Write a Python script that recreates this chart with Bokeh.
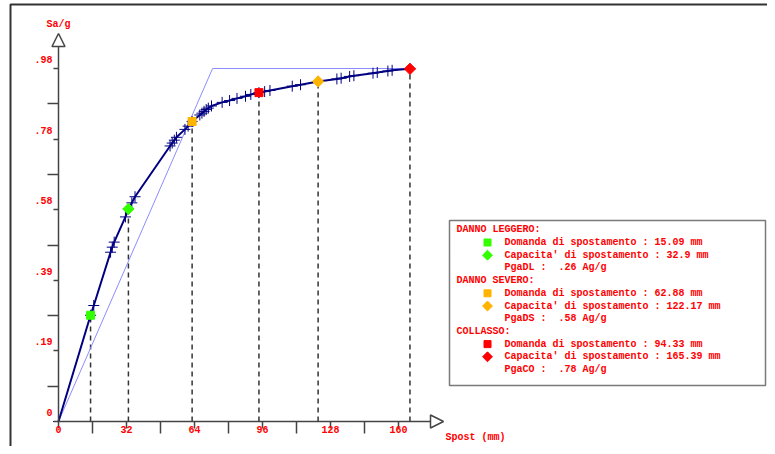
import math
from bokeh.plotting import figure
from bokeh.models import Range1d, FixedTicker, Arrow, NormalHead
from bokeh.core.properties import value
from bokeh.embed import file_html
from bokeh.resources import INLINE

# ---------------- data ----------------
spost_mm = [0.0, 15.09, 16.6, 24.5, 25.3, 26.2, 31.5, 32.9, 34.5, 36.0,
            52.5, 53.5, 54.5, 55.5, 59.5, 61.0, 62.88, 66.5, 67.5, 68.5,
            69.5, 70.5, 72.0, 77.0, 80.5, 84.0, 88.0, 90.5, 94.33, 97.0,
            99.5, 110.0, 113.9, 122.17, 131.0, 133.0, 137.0, 139.0, 148.0,
            150.0, 155.0, 157.0, 165.39]
sa_g = [0.0, 0.295, 0.322, 0.47, 0.484, 0.498, 0.568, 0.59, 0.607, 0.624,
        0.765, 0.773, 0.781, 0.789, 0.811, 0.82, 0.833, 0.851, 0.856, 0.861,
        0.866, 0.87, 0.876, 0.886, 0.891, 0.897, 0.903, 0.908, 0.913, 0.916,
        0.919, 0.931, 0.935, 0.944, 0.951, 0.953, 0.958, 0.96, 0.967,
        0.969, 0.973, 0.975, 0.979]

bilin_x = [0.0, 72.5, 165.39]
bilin_y = [0.0, 0.98, 0.98]

# limit-state points: demand (square) / capacity (diamond)
state_names = ["DANNO LEGGERO:", "DANNO SEVERO:", "COLLASSO:"]
state_colors = ["#33ff00", "#ffb400", "#ff0000"]
demand_mm = [15.09, 62.88, 94.33]
demand_sa = [0.295, 0.833, 0.913]
capacity_mm = [32.9, 122.17, 165.39]
capacity_sa = [0.59, 0.944, 0.979]
pga_names = ["PgaDL", "PgaDS", "PgaCO"]
pga_vals = [".26", ".58", ".78"]
demand_txt = ["15.09", "62.88", "94.33"]
capacity_txt = ["32.9", "122.17", "165.39"]

x_major = [0, 32, 64, 96, 128, 160]
x_minor = [16, 48, 80, 112, 144]
x_labels = ["0", "32", "64", "96", "128", "160"]
y_major = [0.0, 0.196, 0.392, 0.588, 0.784, 0.98]
y_minor = [0.098, 0.294, 0.49, 0.686, 0.882]
y_labels = ["0", ".19", ".39", ".58", ".78", ".98"]

# ---------------- layout helpers ----------------
W, H = 767, 446
OX, OY = 58, 421       # pixel position of the origin
KX, KY = 2.125, 360.2  # pixels per mm, pixels per g


def fx(px):
    return (px - OX) / KX


def fy(py):
    return (OY - py) / KY


FONT = value("Liberation Mono")
RED = "#ff0000"
AX = "#444444"
NB = "\u00a0"

p = figure(width=W, height=H, output_backend="svg", toolbar_location=None,
           x_range=Range1d(fx(0), fx(W)), y_range=Range1d(fy(H), fy(0)),
           min_border=0)
p.xgrid.visible = False
p.ygrid.visible = False
p.outline_line_color = None
p.background_fill_color = "white"

# outer frame (top and left edges)
p.line([fx(10), fx(10), fx(W + 5)], [fy(H + 5), fy(4), fy(4)], line_color="#333333", line_width=2)

# legend box
p.quad(left=fx(449), right=fx(765), top=fy(220), bottom=fy(385),
       fill_color="white", line_color="#7a7a7a", line_width=1.5)

# dashed drop lines
drop_x = demand_mm + capacity_mm
drop_y = demand_sa + capacity_sa
p.segment(x0=drop_x, y0=[0] * len(drop_x), x1=drop_x, y1=drop_y,
          line_color="#333333", line_width=1.5, line_dash="5 4")

# bilinear
p.line(bilin_x, bilin_y, line_color="#8c8cff", line_width=1)

# capacity curve
p.line(spost_mm, sa_g, line_color="#000080", line_width=2)
p.scatter(spost_mm, sa_g, marker="cross", size=11, line_color="#000080", line_width=1)

# limit-state markers
p.scatter(demand_mm, demand_sa, marker="square", size=8, fill_color=state_colors,
          line_color=state_colors)
p.scatter(capacity_mm, capacity_sa, marker="square", size=8, angle=math.pi / 4,
          fill_color=state_colors, line_color=state_colors)

# axes
xa = p.xaxis[0]
xa.fixed_location = 0
xa.ticker = FixedTicker(ticks=x_major, minor_ticks=x_minor)
xa.bounds = (0, 175)
xa.axis_line_color = None
xa.major_tick_in = 0
xa.major_tick_out = 7
xa.minor_tick_in = 0
xa.minor_tick_out = 12
xa.major_tick_line_color = AX
xa.minor_tick_line_color = AX
xa.major_tick_line_width = 1.5
xa.minor_tick_line_width = 1.5
xa.major_label_overrides = {v: s for v, s in zip(x_major, x_labels)}
xa.major_label_text_color = RED
xa.major_label_text_font = "Liberation Mono"
xa.major_label_text_font_style = "bold"
xa.major_label_text_font_size = "10px"
xa.major_label_standoff = -8

ya = p.yaxis[0]
ya.fixed_location = 0
ya.ticker = FixedTicker(ticks=y_major, minor_ticks=y_minor)
ya.bounds = (0, 1.0)
ya.axis_line_color = None
ya.major_tick_in = 0
ya.major_tick_out = 5
ya.minor_tick_in = 0
ya.minor_tick_out = 11
ya.major_tick_line_color = AX
ya.minor_tick_line_color = AX
ya.major_tick_line_width = 1.5
ya.minor_tick_line_width = 1.5
ya.major_label_text_color = None

# y tick labels (sit just above their ticks)
p.text(x=[fx(52)] * len(y_major), y=y_major, text=y_labels, y_offset=-9,
       text_align="right", text_baseline="middle", text_color=RED,
       text_font=FONT, text_font_style="bold", text_font_size="10px")

# axis arrows
p.add_layout(Arrow(end=NormalHead(size=13, fill_color="white", line_color=AX, line_width=1.5),
                   x_start=0, y_start=0, x_end=fx(443), y_end=0,
                   line_color=AX, line_width=1.5))
p.add_layout(Arrow(end=NormalHead(size=13, fill_color="white", line_color=AX, line_width=1.5),
                   x_start=0, y_start=0, x_end=0, y_end=fy(33),
                   line_color=AX, line_width=1.5))

# axis titles
p.text(x=[0], y=[fy(24)], text=["Sa/g"], text_align="center", text_baseline="middle",
       text_color=RED, text_font=FONT, text_font_style="bold", text_font_size="10px")
p.text(x=[fx(445)], y=[fy(437)], text=["Spost" + NB + "(mm)"], text_align="left",
       text_baseline="middle", text_color=RED, text_font=FONT,
       text_font_style="bold", text_font_size="10px")

# legend contents
row_h = 12.7
y_top = 229.3
header_y, header_t = [], []
line_y, line_t = [], []
msq_y, mdi_y = [], []
for i in range(3):
    base = y_top + i * 4 * row_h
    header_y.append(fy(base))
    header_t.append(state_names[i])
    line_y += [fy(base + row_h), fy(base + 2 * row_h), fy(base + 3 * row_h)]
    line_t += ["Domanda di spostamento : %s mm" % demand_txt[i],
               "Capacita' di spostamento : %s mm" % capacity_txt[i],
               "%s :%s%s Ag/g" % (pga_names[i], NB + NB, pga_vals[i])]
    msq_y.append(fy(base + row_h))
    mdi_y.append(fy(base + 2 * row_h))

p.text(x=[fx(456)] * 3, y=header_y, text=header_t, text_align="left",
       text_baseline="middle", text_color=RED, text_font=FONT,
       text_font_style="bold", text_font_size="10px")
p.text(x=[fx(504)] * 9, y=line_y, text=line_t, text_align="left",
       text_baseline="middle", text_color=RED, text_font=FONT,
       text_font_style="bold", text_font_size="10px")
p.scatter([fx(487)] * 3, msq_y, marker="square", size=7,
          fill_color=state_colors, line_color=state_colors)
p.scatter([fx(487)] * 3, mdi_y, marker="square", size=7, angle=math.pi / 4,
          fill_color=state_colors, line_color=state_colors)

open("out.html", "w").write(file_html(p, INLINE))
